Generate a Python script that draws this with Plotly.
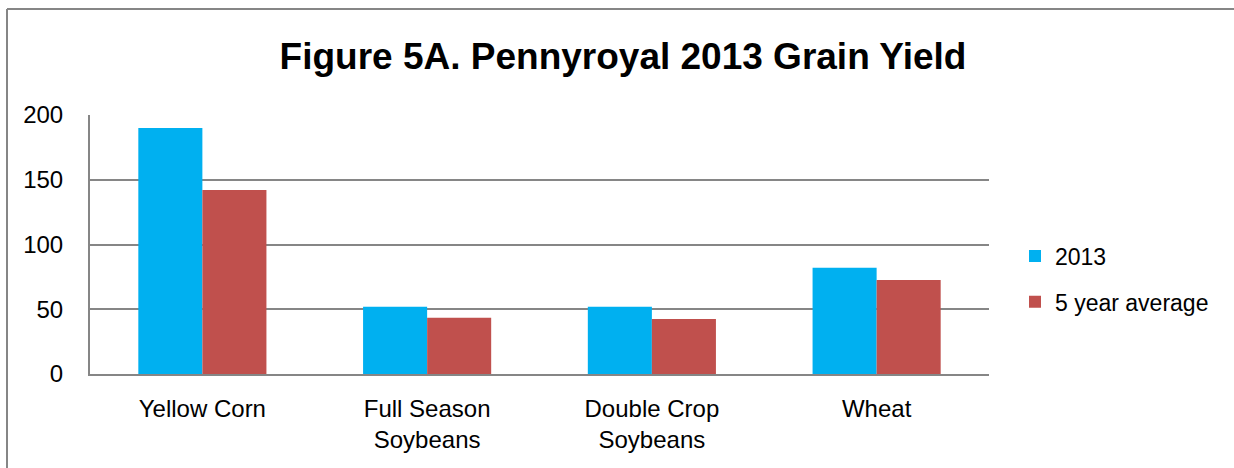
import plotly.graph_objects as go

categories = ["Yellow Corn", "Full Season<br>Soybeans", "Double Crop<br>Soybeans", "Wheat"]
yield_2013 = [190, 52, 52, 82]
yield_5yr = [142, 43.5, 42.5, 72.5]
series_names = ["2013", "5 year average"]
y_ticks = [0, 50, 100, 150, 200]

FONT = "Liberation Sans Narrow, Arial Narrow, Liberation Sans, Arial, sans-serif"
GRAY = "#868686"

fig = go.Figure()
fig.add_trace(go.Bar(x=categories, y=yield_2013, name=series_names[0], legendgroup="a",
                     marker=dict(color="#00B0F0", line=dict(width=0))))
fig.add_trace(go.Bar(x=categories, y=yield_5yr, name=series_names[1], legendgroup="b",
                     marker=dict(color="#C0504D", line=dict(width=0))))

L, R, T, B = 90, 245, 115, 94
W, H = 1234, 468
pw, ph = W - L - R, H - T - B

def px_x(p):
    return (p - L) / pw

def px_y(p):
    return (H - B - p) / ph

fig.update_layout(
    width=W, height=H,
    margin=dict(l=L, r=R, t=T, b=B, pad=0, autoexpand=False),
    paper_bgcolor="white", plot_bgcolor="white",
    font=dict(family=FONT, size=24, color="black"),
    title=dict(text="<b>Figure 5A. Pennyroyal 2013 Grain Yield</b>",
               font=dict(family=FONT, size=37, color="black"),
               x=(623) / W, xanchor="center", y=1 - 56 / H, yanchor="middle"),
    barmode="group", bargap=0.43, bargroupgap=0,
    showlegend=True,
    legend=dict(x=px_x(1015), xanchor="left", y=px_y(279), yanchor="middle",
                font=dict(family=FONT, size=23, color="black"),
                itemwidth=30, tracegroupgap=13, bgcolor="rgba(0,0,0,0)"),
    xaxis=dict(showgrid=False, showline=True, linecolor=GRAY, linewidth=2,
               ticks="", tickfont=dict(size=24), ticklabelstandoff=12),
    yaxis=dict(range=[0, 200], tickvals=y_ticks, showgrid=True, gridcolor=GRAY,
               gridwidth=2, showline=True, linecolor=GRAY, linewidth=2,
               zeroline=False, ticks="", tickfont=dict(size=24),
               ticklabelstandoff=20),
    shapes=[
        dict(type="line", xref="paper", yref="paper",
             x0=px_x(7), x1=px_x(1240), y0=px_y(9), y1=px_y(9),
             line=dict(color=GRAY, width=2)),
        dict(type="line", xref="paper", yref="paper",
             x0=px_x(7), x1=px_x(7), y0=px_y(9), y1=px_y(475),
             line=dict(color=GRAY, width=2)),
    ],
)

fig.write_html("out.html")
